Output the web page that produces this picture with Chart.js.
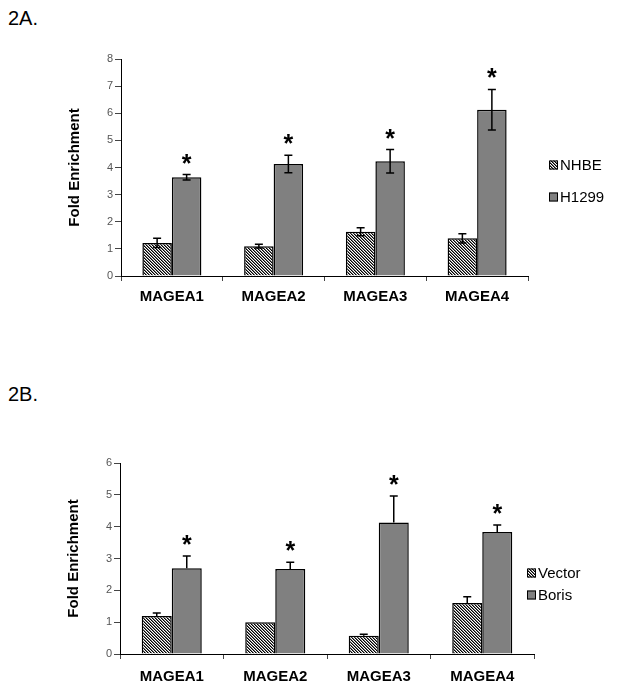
<!DOCTYPE html>
<html>
<head>
<meta charset="utf-8">
<script src="https://cdn.jsdelivr.net/npm/chart.js@4.4.1/dist/chart.umd.min.js"></script>
<style>
  body { margin: 0; background: #fff; width: 617px; height: 687px; position: relative; overflow: hidden; }
  .panel { position: absolute; left: 0; width: 617px; }
  .label { position: absolute; left: 8px; font-family: "Liberation Sans", Arial, sans-serif; font-size: 20px; color: #000; }
</style>
</head>
<body>
<div class="label" style="top:7px">2A.</div>
<div class="label" style="top:383px">2B.</div>
<div class="panel" style="top:0;height:340px"><canvas id="chartA"></canvas></div>
<div class="panel" style="top:340px;height:347px"><canvas id="chartB"></canvas></div>
<script>
const categories = ["MAGEA1", "MAGEA2", "MAGEA3", "MAGEA4"];

// 2A
const nhbe = [1.22, 1.10, 1.63, 1.39];
const nhbeErr = [0.17, 0.07, 0.15, 0.17];
const h1299 = [3.64, 4.13, 4.23, 6.13];
const h1299Err = [0.10, 0.32, 0.43, 0.75];

// 2B
const vector = [1.19, 1.00, 0.57, 1.60];
const vectorErr = [0.10, 0.00, 0.05, 0.20];
const boris = [2.69, 2.67, 4.13, 3.83];
const borisErr = [0.39, 0.21, 0.83, 0.22];

const FONT = "'Liberation Sans', Arial, sans-serif";

// dense "\\\" hatch used for the control series
function makeHatch() {
    const c = document.createElement("canvas");
    c.width = 3;
    c.height = 3;
    const g = c.getContext("2d");
    g.fillStyle = "#fff";
    g.fillRect(0, 0, 3, 3);
    for (let i = 0; i < 3; i++) {
        g.fillStyle = "#000";
        g.fillRect(i, i, 1, 1);
        g.fillStyle = "#777";
        g.fillRect((i + 1) % 3, i, 1, 1);
    }
    return g.createPattern(c, "repeat");
}
const hatch = makeHatch();

// error bars + significance stars
const errorBarPlugin = {
    id: "errorBars",
    afterDatasetsDraw(chart, args, opts) {
        const ctx = chart.ctx;
        const y = chart.scales.y;
        ctx.save();
        ctx.strokeStyle = "#000";
        ctx.lineWidth = 1.5;
        chart.data.datasets.forEach((ds, di) => {
            const meta = chart.getDatasetMeta(di);
            meta.data.forEach((bar, i) => {
                const v = ds.data[i];
                const e = ds.errors[i];
                const top = y.getPixelForValue(v + e);
                if (e > 0) {
                    const bot = opts.both ? y.getPixelForValue(v - e) : bar.y;
                    ctx.beginPath();
                    ctx.moveTo(bar.x, top);
                    ctx.lineTo(bar.x, bot);
                    ctx.moveTo(bar.x - 4, top);
                    ctx.lineTo(bar.x + 4, top);
                    if (opts.both) {
                        ctx.moveTo(bar.x - 4, bot);
                        ctx.lineTo(bar.x + 4, bot);
                    }
                    ctx.stroke();
                }
                if (ds.stars) {
                    ctx.fillStyle = "#000";
                    ctx.font = "bold 25px " + FONT;
                    ctx.textAlign = "center";
                    ctx.textBaseline = "alphabetic";
                    ctx.fillText("*", bar.x, top - 3);
                }
            });
        });
        ctx.restore();
    }
};

// small legend at the right of the plot
const boxLegendPlugin = {
    id: "boxLegend",
    afterDraw(chart, args, opts) {
        const ctx = chart.ctx;
        ctx.save();
        ctx.font = "15px " + FONT;
        ctx.textBaseline = "middle";
        ctx.textAlign = "left";
        chart.data.datasets.forEach((ds, i) => {
            const yy = opts.y + i * opts.gap;
            ctx.fillStyle = ds.backgroundColor;
            ctx.fillRect(opts.x, yy - 4.5, 9, 9);
            ctx.strokeStyle = "#000";
            ctx.lineWidth = 1;
            ctx.strokeRect(opts.x + 0.5, yy - 4, 8, 8);
            ctx.fillStyle = "#000";
            ctx.fillText(ds.label, opts.x + 11, yy + 1);
        });
        ctx.restore();
    }
};

function makeChart(id, sets, yMax, layout) {
    const ctx = document.getElementById(id).getContext("2d");
    return new Chart(ctx, {
        type: "bar",
        data: {
            labels: categories,
            datasets: sets.map((s, i) => ({
                label: s.label,
                data: s.data,
                errors: s.errors,
                stars: i === 1,
                backgroundColor: i === 0 ? hatch : "#808080",
                borderColor: "#000",
                borderWidth: 1.5,
                categoryPercentage: 0.58,
                barPercentage: 1.0
            }))
        },
        options: {
            responsive: true,
            maintainAspectRatio: false,
            animation: false,
            events: [],
            layout: { padding: layout.padding },
            plugins: {
                legend: { display: false },
                tooltip: { enabled: false },
                errorBars: { both: layout.both },
                boxLegend: layout.legend
            },
            scales: {
                x: {
                    grid: { display: true, drawOnChartArea: false, offset: true, tickLength: 5, color: "#444" },
                    border: { display: true, color: "#000", width: 1 },
                    ticks: { color: "#000", padding: layout.xPad, font: { family: FONT, size: 15, weight: "bold" } },
                    afterFit: (s) => { s.height = layout.xHeight; }
                },
                y: {
                    min: 0,
                    max: yMax,
                    ticks: { stepSize: 1, color: "#555", padding: 2, font: { family: FONT, size: 11 } },
                    grid: { display: true, drawOnChartArea: false, tickLength: 6, color: "#444" },
                    border: { display: true, color: "#000", width: 1 },
                    title: {
                        display: true,
                        text: "Fold Enrichment",
                        color: "#000",
                        padding: { top: 3, bottom: 0 },
                        font: { family: FONT, size: 15, weight: "bold" }
                    },
                    afterFit: (s) => { s.width = 58; }
                }
            }
        },
        plugins: [errorBarPlugin, boxLegendPlugin]
    });
}

makeChart("chartA", [
    { label: "NHBE", data: nhbe, errors: nhbeErr },
    { label: "H1299", data: h1299, errors: h1299Err }
], 8, {
    padding: { top: 59, left: 63, right: 89, bottom: 24 },
    xHeight: 40,
    xPad: 7,
    both: true,
    legend: { x: 549, y: 165, gap: 32 }
});

makeChart("chartB", [
    { label: "Vector", data: vector, errors: vectorErr },
    { label: "Boris", data: boris, errors: borisErr }
], 6, {
    padding: { top: 123, left: 62, right: 83, bottom: 3 },
    xHeight: 30,
    xPad: 9,
    both: false,
    legend: { x: 527, y: 233, gap: 22 }
});
</script>
</body>
</html>
